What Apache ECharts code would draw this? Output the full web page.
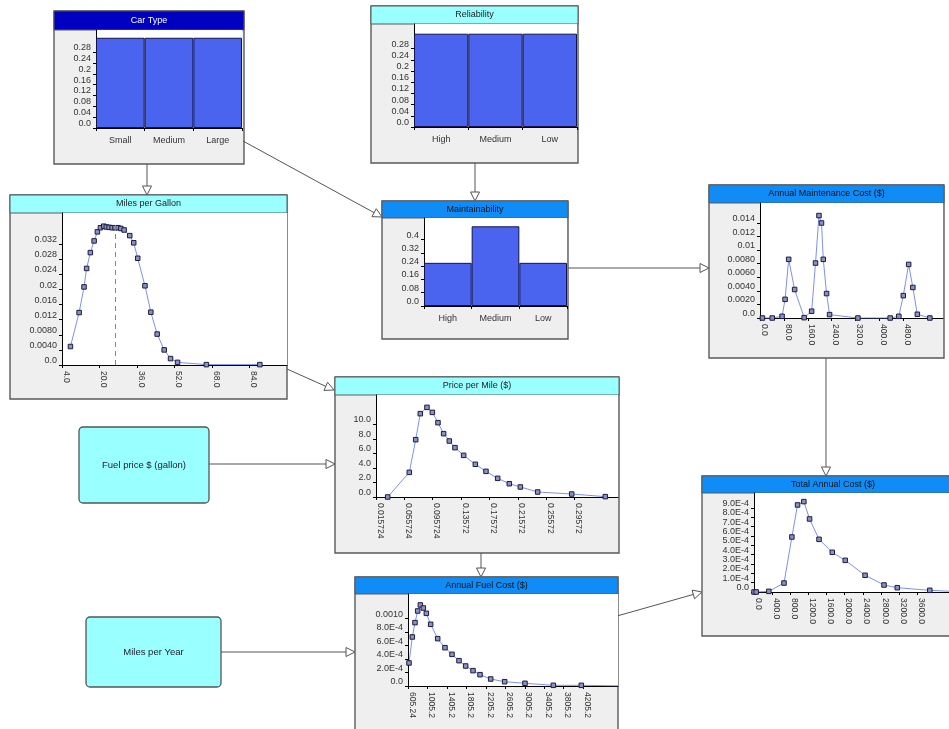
<!DOCTYPE html>
<html><head><meta charset="utf-8">
<script src="https://cdn.jsdelivr.net/npm/echarts@6/dist/echarts.min.js"></script>
<style>html,body{margin:0;padding:0;background:#fff}#c{width:949px;height:729px}</style>
</head><body><div id="c"></div>
<script>
// ================= DATA =================
// Car Type
const carTypeCats = ['Small', 'Medium', 'Large'];
const carTypeProb = [0.3333, 0.3333, 0.3334];
// Reliability
const reliabilityCats = ['High', 'Medium', 'Low'];
const reliabilityProb = [0.3333, 0.3333, 0.3334];
// shared prob ticks for the two top panels
const probTicks = [0, 0.04, 0.08, 0.12, 0.16, 0.2, 0.24, 0.28];
const probTickLabels = ['0.0', '0.04', '0.08', '0.12', '0.16', '0.2', '0.24', '0.28'];
// Maintainability
const maintCats = ['High', 'Medium', 'Low'];
const maintProb = [0.26, 0.48, 0.26];
const maintTicks = [0, 0.08, 0.16, 0.24, 0.32, 0.4];
const maintTickLabels = ['0.0', '0.08', '0.16', '0.24', '0.32', '0.4'];

// Miles per Gallon
const mpgX = [7.6, 11.3, 13.4, 14.5, 16.1, 17.7, 19.1, 20.4, 21.8, 22.9, 24.1, 25.4, 26.6, 27.9, 29.1, 30.5, 32.9, 34.6, 36.3, 39.4, 41.9, 44.6, 47.6, 50.3, 53.3, 65.6, 88.4];
const mpgY = [0.0049, 0.0139, 0.0207, 0.0256, 0.0298, 0.0329, 0.0353, 0.0364, 0.0368, 0.0366, 0.0365, 0.0364, 0.0364, 0.0364, 0.0362, 0.0358, 0.0343, 0.0324, 0.0283, 0.0210, 0.0140, 0.0082, 0.0040, 0.0017, 0.0007, 0.0001, 0.0001];
const mpgMean = 26.9;
const mpgXTicks = [4, 20, 36, 52, 68, 84];
const mpgXTickLabels = ['4.0', '20.0', '36.0', '52.0', '68.0', '84.0'];
const mpgYTicks = [0, 0.004, 0.008, 0.012, 0.016, 0.02, 0.024, 0.028, 0.032];
const mpgYTickLabels = ['0.0', '0.0040', '0.0080', '0.012', '0.016', '0.02', '0.024', '0.028', '0.032'];

// Annual Maintenance Cost ($)
const amcX = [8, 41, 74, 84, 96, 116, 148, 173, 186, 197.5, 206, 212, 223, 233, 328, 436, 465, 480, 498, 512, 527, 569];
const amcY = [0, 0, 0.00025, 0.00275, 0.00865, 0.0042, 0.00005, 0.001, 0.0081, 0.0151, 0.0140, 0.00865, 0.0036, 0.0005, 0, 0, 0.00025, 0.0033, 0.0079, 0.0045, 0.00055, 0];
const amcXTicks = [0, 80, 160, 240, 320, 400, 480];
const amcXTickLabels = ['0.0', '80.0', '160.0', '240.0', '320.0', '400.0', '480.0'];
const amcYTicks = [0, 0.002, 0.004, 0.006, 0.008, 0.01, 0.012, 0.014];
const amcYTickLabels = ['0.0', '0.0020', '0.0040', '0.0060', '0.0080', '0.01', '0.012', '0.014'];

// Price per Mile ($)
const ppmX = [0.0322, 0.0627, 0.0717, 0.0782, 0.0876, 0.0952, 0.1031, 0.1111, 0.1191, 0.1271, 0.1393, 0.1558, 0.1708, 0.1873, 0.2037, 0.2193, 0.2437, 0.2917, 0.3391];
const ppmY = [0, 3.39, 7.89, 11.47, 12.34, 11.65, 10.23, 8.72, 7.71, 6.79, 5.73, 4.50, 3.53, 2.57, 1.83, 1.38, 0.69, 0.41, 0.05];
const ppmXTicks = [0.015724, 0.055724, 0.095724, 0.135724, 0.175724, 0.215724, 0.255724, 0.295724];
const ppmXTickLabels = ['0.015724', '0.055724', '0.095724', '0.13572', '0.17572', '0.21572', '0.25572', '0.29572'];
const ppmYTicks = [0, 2, 4, 6, 8, 10];
const ppmYTickLabels = ['0.0', '2.0', '4.0', '6.0', '8.0', '10.0'];

// Total Annual Cost ($)
const tacX = [0, 49, 327, 662, 836, 961, 1100, 1226, 1435, 1727, 2013, 2451, 2869, 3162, 3879, 4460];
const tacY = [0, 0, 0.000007, 0.000096, 0.000589, 0.000932, 0.000968, 0.000782, 0.000564, 0.000425, 0.000339, 0.000179, 0.000075, 0.000046, 0.000018, 0.000005];
const tacXTicks = [0, 400, 800, 1200, 1600, 2000, 2400, 2800, 3200, 3600];
const tacXTickLabels = ['0.0', '400.0', '800.0', '1200.0', '1600.0', '2000.0', '2400.0', '2800.0', '3200.0', '3600.0'];
const tacYTicks = [0, 1e-4, 2e-4, 3e-4, 4e-4, 5e-4, 6e-4, 7e-4, 8e-4, 9e-4];
const tacYTickLabels = ['0.0', '1.0E-4', '2.0E-4', '3.0E-4', '4.0E-4', '5.0E-4', '6.0E-4', '7.0E-4', '8.0E-4', '9.0E-4'];

// Annual Fuel Cost ($)
const afcX = [626, 694, 749, 804, 859, 920, 982, 1071, 1215, 1365, 1509, 1653, 1790, 1941, 2085, 2304, 2591, 3009, 3591, 4166, 5000];
const afcY = [0.000342, 0.000728, 0.000941, 0.001114, 0.001203, 0.001158, 0.001079, 0.000916, 0.000703, 0.000569, 0.000470, 0.000376, 0.000297, 0.000228, 0.000168, 0.000104, 0.000064, 0.000040, 0.000010, 0.000010, 0.000002];
const afcXTicks = [605.24, 1005.24, 1405.24, 1805.24, 2205.24, 2605.24, 3005.24, 3405.24, 3805.24, 4205.24];
const afcXTickLabels = ['605.24', '1005.2', '1405.2', '1805.2', '2205.2', '2605.2', '3005.2', '3405.2', '3805.2', '4205.2'];
const afcYTicks = [0, 2e-4, 4e-4, 6e-4, 8e-4, 10e-4];
const afcYTickLabels = ['0.0', '2.0E-4', '4.0E-4', '6.0E-4', '8.0E-4', '0.0010'];

// ================= LAYOUT / STYLE =================
const FONT = 'Liberation Sans, Arial, sans-serif';
const DARK = '#0000c0', CYAN = '#99ffff', BLUE = '#0f8cf5';
const BAR_COLOR = '#4a64f0';

// node boxes: [x, y, w, h, titleH, title, titleColor, titleTextColor]
const boxes = [
  [54, 11, 190, 153, 19, 'Car Type', DARK, '#fff'],
  [371, 6, 207, 157, 18, 'Reliability', CYAN, '#222'],
  [10, 195, 277, 204, 18, 'Miles per Gallon', CYAN, '#222'],
  [382, 201, 186, 138, 17, 'Maintainability', BLUE, '#111'],
  [709, 185, 235, 173, 18, 'Annual Maintenance Cost ($)', BLUE, '#111'],
  [335, 377, 284, 176, 18, 'Price per Mile ($)', CYAN, '#222'],
  [702, 476, 262, 160, 17, 'Total Annual Cost ($)', BLUE, '#111'],
  [355, 577, 263, 170, 17, 'Annual Fuel Cost ($)', BLUE, '#111']
];
const plainNodes = [
  [79, 427, 130, 76, 'Fuel price $ (gallon)'],
  [86, 617, 135, 70, 'Miles per Year']
];
const arrows = [
  [147, 164, 147, 195],
  [243, 141, 382, 217],
  [475, 163, 475, 201],
  [568, 268, 709, 268],
  [287, 369, 334, 390],
  [209, 464, 335, 464],
  [481, 553, 481, 577],
  [221, 652, 355, 652],
  [617, 616, 702, 592],
  [826, 358, 826, 476]
];

const graphics = [];
boxes.forEach(b => {
  const [x, y, w, h, th, t, tc, ttc] = b;
  graphics.push({type: 'rect', z: -10, shape: {x, y, width: w, height: h}, style: {fill: '#efefef', stroke: '#5a5a5a', lineWidth: 1.4}});
  graphics.push({type: 'rect', z: -9, shape: {x, y, width: w, height: th}, style: {fill: tc, stroke: '#5a5a5a', lineWidth: 1}});
  graphics.push({type: 'text', z: -8, x: x + w / 2, y: y + th / 2, style: {text: t, fill: ttc, font: '9px ' + FONT, textAlign: 'center', textVerticalAlign: 'middle'}});
});
plainNodes.forEach(n => {
  const [x, y, w, h, t] = n;
  graphics.push({type: 'rect', z: -10, shape: {x, y, width: w, height: h, r: 4}, style: {fill: CYAN, stroke: '#555', lineWidth: 1.3}});
  graphics.push({type: 'text', z: -8, x: x + w / 2, y: y + h / 2, style: {text: t, fill: '#223', font: '9.5px ' + FONT, textAlign: 'center', textVerticalAlign: 'middle'}});
});
arrows.forEach(a => {
  const [x1, y1, x2, y2] = a;
  const dx = x2 - x1, dy = y2 - y1, L = Math.hypot(dx, dy);
  const ux = dx / L, uy = dy / L;
  const bx = x2 - ux * 9, by = y2 - uy * 9;
  const px = -uy * 4.5, py = ux * 4.5;
  graphics.push({type: 'line', z: -7, shape: {x1, y1, x2: bx, y2: by}, style: {stroke: '#555', lineWidth: 1}});
  graphics.push({type: 'polygon', z: -7, shape: {points: [[x2, y2], [bx + px, by + py], [bx - px, by - py]]}, style: {fill: '#fff', stroke: '#555', lineWidth: 1}});
});

// grids: [left, top, width, height]
const gridRects = [
  [96, 30, 146, 98],    // 0 car type
  [414, 24, 163, 103],  // 1 reliability
  [424, 218, 143, 88],  // 2 maintainability
  [62, 213, 225, 152],  // 3 mpg
  [760, 203, 183, 115], // 4 amc
  [376, 395, 242, 102], // 5 ppm
  [754, 493, 206, 99],  // 6 tac
  [408, 594, 210, 92]   // 7 afc
];
const grids = gridRects.map(g => ({left: g[0], top: g[1], width: g[2], height: g[3], show: true, backgroundColor: '#fff', borderWidth: 0, containLabel: false}));

function labelFor(v, ticks, labels) {
  let best = 0, d = Infinity;
  ticks.forEach((t, i) => { const dd = Math.abs(t - v); if (dd < d) { d = dd; best = i; } });
  return labels[best];
}
const axisLineStyle = {show: true, lineStyle: {color: '#000', width: 1}};
function yAxis(gi, max, ticks, labels) {
  return {
    type: 'value', gridIndex: gi, min: 0, max: max,
    axisLine: axisLineStyle,
    axisTick: {show: true, length: 3, customValues: ticks, lineStyle: {color: '#000'}},
    axisLabel: {customValues: ticks, formatter: v => labelFor(v, ticks, labels), fontSize: 9, color: '#333', fontFamily: FONT, margin: 5, verticalAlign: 'bottom', lineHeight: 9},
    splitLine: {show: false}
  };
}
function xValueAxis(gi, min, max, ticks, labels) {
  return {
    type: 'value', gridIndex: gi, min: min, max: max,
    axisLine: axisLineStyle,
    axisTick: {show: true, length: 3, customValues: ticks, lineStyle: {color: '#000'}},
    axisLabel: {customValues: ticks, formatter: v => labelFor(v, ticks, labels), fontSize: 8.5, color: '#333', fontFamily: FONT, margin: 6, rotate: -90, verticalAlign: 'bottom', lineHeight: 8},
    splitLine: {show: false}
  };
}
function xCatAxis(gi, cats) {
  return {
    type: 'category', gridIndex: gi, data: cats, boundaryGap: true,
    axisLine: axisLineStyle,
    axisTick: {show: true, length: 3, lineStyle: {color: '#000'}},
    axisLabel: {fontSize: 9, color: '#333', fontFamily: FONT, margin: 8},
    splitLine: {show: false}
  };
}

const xAxes = [
  xCatAxis(0, carTypeCats),
  xCatAxis(1, reliabilityCats),
  xCatAxis(2, maintCats),
  xValueAxis(3, 4, 100, mpgXTicks, mpgXTickLabels),
  xValueAxis(4, 0, 613, amcXTicks, amcXTickLabels),
  xValueAxis(5, 0.015724, 0.357, ppmXTicks, ppmXTickLabels),
  xValueAxis(6, 0, 4303, tacXTicks, tacXTickLabels),
  xValueAxis(7, 605.24, 4920, afcXTicks, afcXTickLabels)
];
const yAxes = [
  yAxis(0, 0.362, probTicks, probTickLabels),
  yAxis(1, 0.368, probTicks, probTickLabels),
  yAxis(2, 0.53, maintTicks, maintTickLabels),
  yAxis(3, 0.0403, mpgYTicks, mpgYTickLabels),
  yAxis(4, 0.01695, amcYTicks, amcYTickLabels),
  yAxis(5, 14.04, ppmYTicks, ppmYTickLabels),
  yAxis(6, 10.6e-4, tacYTicks, tacYTickLabels),
  yAxis(7, 13.66e-4, afcYTicks, afcYTickLabels)
];

function barSeries(i, data) {
  return {type: 'bar', xAxisIndex: i, yAxisIndex: i, data: data, barCategoryGap: '0%',
    itemStyle: {color: BAR_COLOR, borderColor: '#14144a', borderWidth: 1}};
}
const zip = (xs, ys) => xs.map((x, i) => [x, ys[i]]);
function lineSeries(i, xs, ys, extra) {
  return Object.assign({type: 'line', xAxisIndex: i, yAxisIndex: i, data: zip(xs, ys),
    symbol: 'rect', symbolSize: 4.5, showAllSymbol: true, clip: true,
    lineStyle: {color: '#8090e8', width: 1},
    itemStyle: {color: '#8c92bc', borderColor: '#1c1c40', borderWidth: 1}}, extra || {});
}

const series = [
  barSeries(0, carTypeProb),
  barSeries(1, reliabilityProb),
  barSeries(2, maintProb),
  lineSeries(3, mpgX, mpgY, {markLine: {symbol: 'none', silent: true, animation: false,
    lineStyle: {type: [5, 4], color: '#6f7ee8', width: 1}, label: {show: false},
    emphasis: {disabled: true},
    data: [[{coord: [mpgMean, 0]}, {coord: [mpgMean, 0.0372]}]]}}),
  lineSeries(4, amcX, amcY),
  lineSeries(5, ppmX, ppmY),
  lineSeries(6, tacX, tacY),
  lineSeries(7, afcX, afcY)
];

const chart = echarts.init(document.getElementById('c'), null, {renderer: 'canvas'});
chart.setOption({
  animation: false,
  backgroundColor: '#fff',
  grid: grids,
  xAxis: xAxes,
  yAxis: yAxes,
  series: series,
  graphic: {elements: graphics}
});
</script>
</body></html>
